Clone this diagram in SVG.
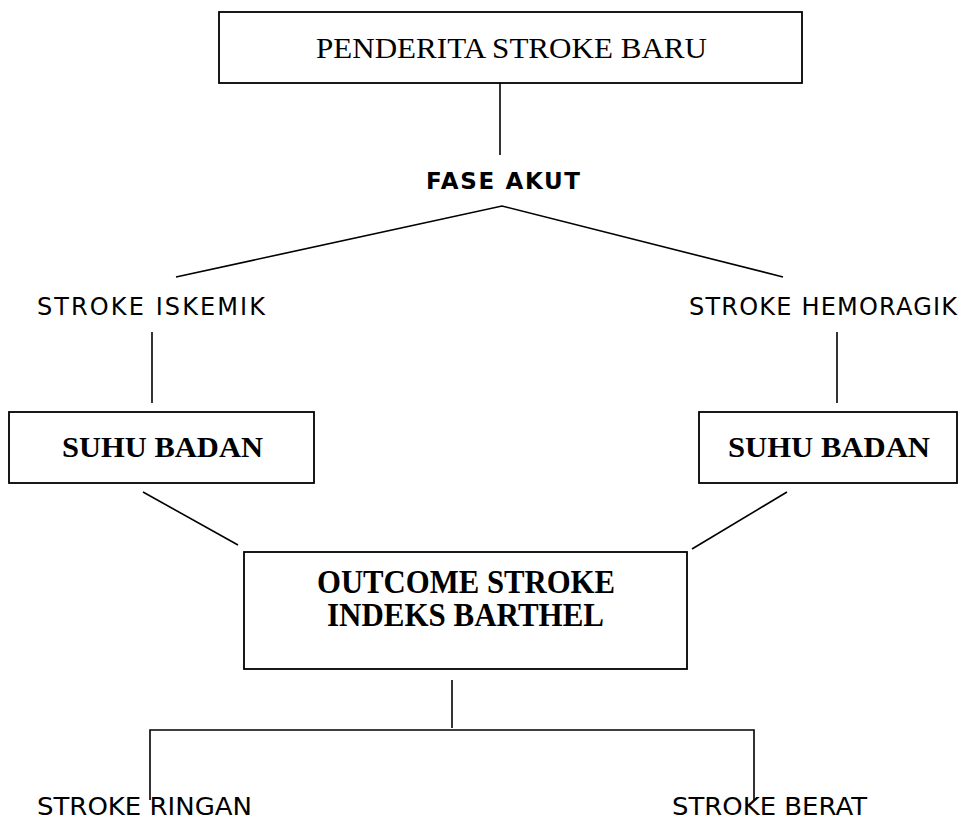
<svg xmlns="http://www.w3.org/2000/svg" width="961" height="819" viewBox="0 0 961 819">
<style>
.box{fill:#fff;stroke:#000;stroke-width:1.8}
.ln{fill:none;stroke:#000;stroke-width:1.6}
.serif{font-family:"Liberation Serif","Times New Roman",serif;fill:#000}
.sans{font-family:"DejaVu Sans",Verdana,sans-serif;fill:#000}
.b{font-weight:bold}
</style>
<rect width="961" height="819" fill="#fff"/>
<g id="connectors">
<line class="ln" x1="500" y1="83" x2="500" y2="155"/>
<polyline class="ln" points="176,277 502,206 783,277"/>
<line class="ln" x1="152" y1="332" x2="152" y2="403"/>
<line class="ln" x1="837" y1="332" x2="837" y2="403"/>
<line class="ln" x1="143" y1="492" x2="238" y2="545"/>
<line class="ln" x1="787" y1="492" x2="692" y2="549"/>
<line class="ln" x1="452" y1="680" x2="452" y2="728"/>
<polyline class="ln" points="150,800 150,730 754,730 754,800"/>
</g>
<g id="penderita">
<rect class="box" x="219" y="12" width="583" height="71"/>
<text class="serif" x="316" y="58" font-size="30" textLength="391" lengthAdjust="spacingAndGlyphs">PENDERITA STROKE BARU</text>
</g>
<g id="fase-akut">
<text class="sans b" x="426" y="189" font-size="23" textLength="154" lengthAdjust="spacing">FASE AKUT</text>
</g>
<g id="stroke-iskemik">
<text class="sans" x="37" y="315" font-size="24" textLength="228" lengthAdjust="spacing">STROKE ISKEMIK</text>
</g>
<g id="stroke-hemoragik">
<text class="sans" x="689" y="315" font-size="24" textLength="268" lengthAdjust="spacing">STROKE HEMORAGIK</text>
</g>
<g id="suhu-badan-1">
<rect class="box" x="9" y="412" width="305" height="71"/>
<text class="serif b" x="62" y="457" font-size="30" textLength="201" lengthAdjust="spacingAndGlyphs">SUHU BADAN</text>
</g>
<g id="suhu-badan-2">
<rect class="box" x="699" y="412" width="258" height="71"/>
<text class="serif b" x="728" y="457" font-size="30" textLength="202" lengthAdjust="spacingAndGlyphs">SUHU BADAN</text>
</g>
<g id="outcome">
<rect class="box" x="244" y="552" width="443" height="117"/>
<text class="serif b" x="317" y="593" font-size="33" textLength="298" lengthAdjust="spacingAndGlyphs">OUTCOME STROKE</text>
<text class="serif b" x="327" y="626" font-size="33" textLength="277" lengthAdjust="spacingAndGlyphs">INDEKS BARTHEL</text>
</g>
<g id="stroke-ringan">
<text class="sans" x="37" y="815" font-size="25" textLength="215" lengthAdjust="spacingAndGlyphs">STROKE RINGAN</text>
</g>
<g id="stroke-berat">
<text class="sans" x="672" y="815" font-size="25" textLength="195" lengthAdjust="spacingAndGlyphs">STROKE BERAT</text>
</g>
</svg>
